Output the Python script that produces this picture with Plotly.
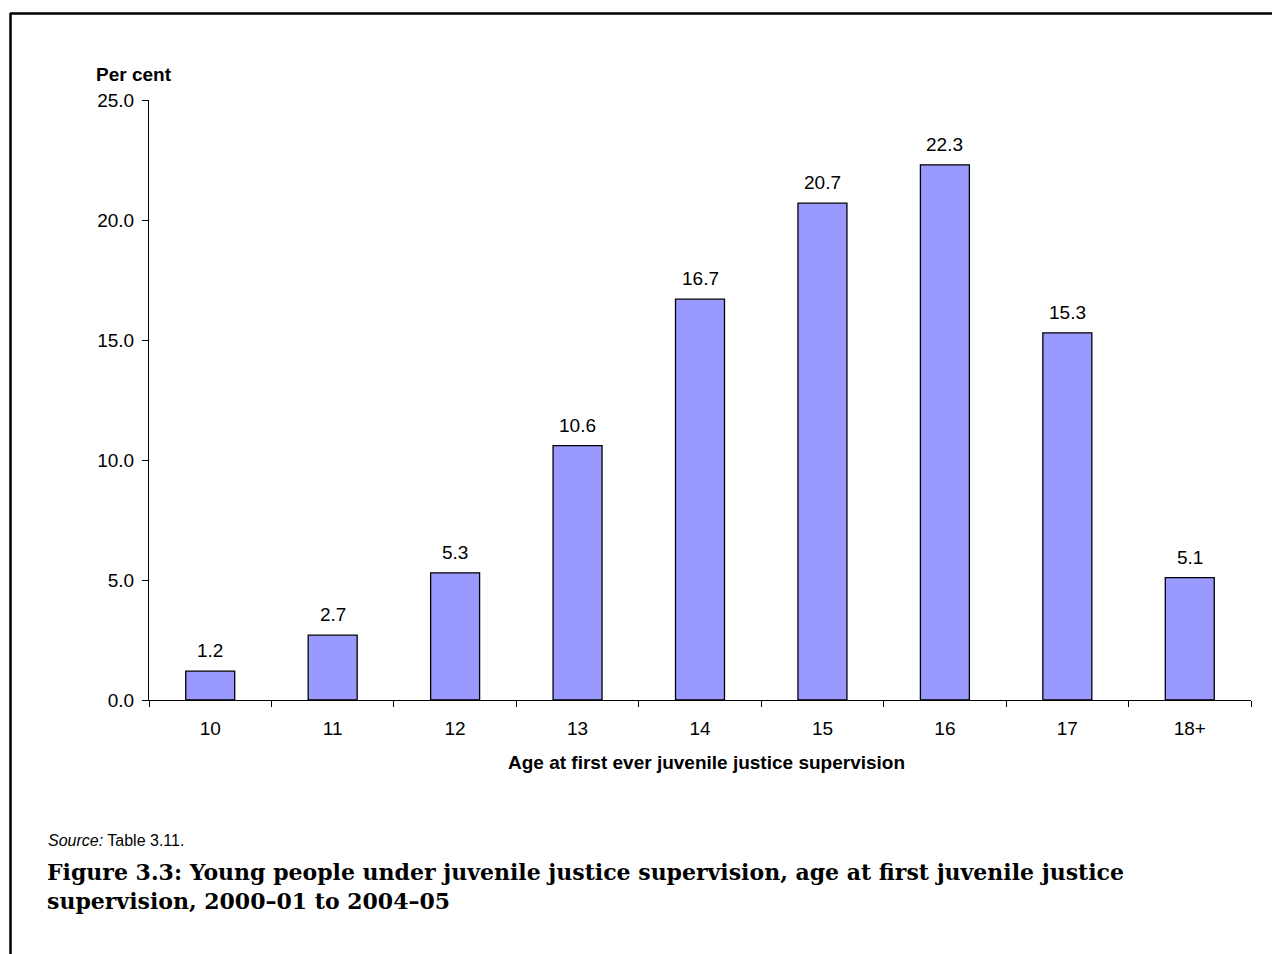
import plotly.graph_objects as go

categories = ["10", "11", "12", "13", "14", "15", "16", "17", "18+"]
values = [1.2, 2.7, 5.3, 10.6, 16.7, 20.7, 22.3, 15.3, 5.1]
y_ticks = [0, 5, 10, 15, 20, 25]

W, H = 1272, 954
L, R, T, B = 149, 21, 100, 254
PW = W - L - R
PH = H - T - B

def px(x):
    return (x - L) / PW

def py(y):
    return (H - B - y) / PH

fig = go.Figure()
fig.add_trace(go.Bar(
    x=list(range(len(categories))), y=values, width=0.4,
    marker=dict(color="#9999FF", line=dict(color="#000000", width=1.3)),
    hoverinfo="skip",
))

font = "Liberation Sans, Arial, sans-serif"
FS = 19
for i, v in enumerate(values):
    fig.add_annotation(x=i, y=v, text=f"{v:.1f}", showarrow=False,
                       yanchor="bottom", yshift=8,
                       font=dict(family=font, size=FS, color="#000"))

fig.add_annotation(xref="paper", yref="paper", x=px(94), y=py(74),
                   text="<b>Per cent</b>", showarrow=False, xanchor="left", yanchor="middle",
                   font=dict(family=font, size=FS, color="#000"))
fig.add_annotation(xref="paper", yref="paper", x=px(706), y=py(762),
                   text="<b>Age at first ever juvenile justice supervision</b>", showarrow=False,
                   xanchor="center", yanchor="middle",
                   font=dict(family=font, size=FS, color="#000"))
fig.add_annotation(xref="paper", yref="paper", x=px(46), y=py(840),
                   text="<i>Source:</i> Table 3.11.", showarrow=False,
                   xanchor="left", yanchor="middle",
                   font=dict(family=font, size=16, color="#000"))
fig.add_annotation(xref="paper", yref="paper", x=px(45), y=py(886),
                   text="<b>Figure 3.3: Young people under juvenile justice supervision, age at first juvenile justice<br>supervision, 2000\u201301 to 2004\u201305</b>",
                   showarrow=False, xanchor="left", yanchor="middle", align="left",
                   font=dict(family="DejaVu Serif, serif", size=22, color="#000"))

# border lines
fig.add_shape(type="line", xref="paper", yref="paper", x0=px(10), x1=px(1272), y0=py(13.5), y1=py(13.5),
              line=dict(color="#000", width=2.5))
fig.add_shape(type="line", xref="paper", yref="paper", x0=px(10.5), x1=px(10.5), y0=py(13), y1=py(954),
              line=dict(color="#000", width=2.5))

fig.update_layout(
    width=W, height=H,
    margin=dict(l=L, r=R, t=T, b=B, autoexpand=False),
    paper_bgcolor="white", plot_bgcolor="white",
    showlegend=False, bargap=0.6,
    font=dict(family=font, size=FS, color="#000"),
)
fig.update_xaxes(range=[-0.5, 8.5], tickvals=list(range(len(categories))), ticktext=categories,
                 showline=True, linecolor="#000", linewidth=1,
                 ticks="", showgrid=False, zeroline=False, tickfont=dict(size=FS),
                 ticklabelstandoff=11)
# boundary tick marks via minor ticks
fig.update_xaxes(minor=dict(tickvals=[i - 0.5 for i in range(len(categories) + 1)], ticks="outside",
                            ticklen=6, tickcolor="#000", tickwidth=1, showgrid=False))
fig.update_yaxes(range=[0, 25], tickvals=y_ticks, tickformat=".1f", showline=True, linecolor="#000",
                 linewidth=1, ticks="outside", ticklen=6, tickcolor="#000", tickwidth=1,
                 showgrid=False, zeroline=False, tickfont=dict(size=FS), ticklabelstandoff=4)

fig.write_html("out.html", config={"displayModeBar": False},
               post_script="document.body.style.margin='0';")
